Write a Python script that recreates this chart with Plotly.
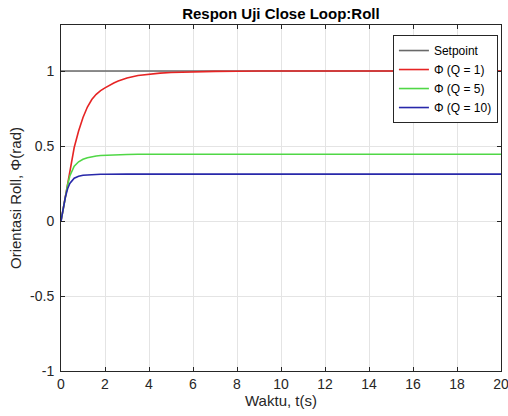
import plotly.graph_objects as go

t = [0, 0.1, 0.2, 0.3, 0.4, 0.6, 0.8, 1.0, 1.2, 1.4, 1.6, 1.8, 2.0, 2.2, 2.4, 2.6, 2.8, 3.0, 3.5, 4.0, 4.5, 5.0, 6.0, 7.0, 8.0, 9.0, 20]
setpoint = [1.0] * len(t)
phi_q1 = [0, 0.085, 0.17, 0.26, 0.34, 0.49, 0.60, 0.69, 0.76, 0.81, 0.845, 0.87, 0.888, 0.905, 0.92, 0.933, 0.944, 0.953, 0.97, 0.98, 0.986, 0.99, 0.995, 0.998, 0.999, 1.0, 1.0]
phi_q5 = [0, 0.088, 0.17, 0.24, 0.30, 0.365, 0.395, 0.412, 0.422, 0.429, 0.434, 0.437, 0.439, 0.441, 0.442, 0.443, 0.444, 0.444, 0.445, 0.445, 0.445, 0.445, 0.445, 0.445, 0.445, 0.445, 0.445]
phi_q10 = [0, 0.09, 0.16, 0.215, 0.25, 0.285, 0.298, 0.305, 0.308, 0.310, 0.311, 0.312, 0.312, 0.313, 0.313, 0.313, 0.313, 0.313, 0.313, 0.313, 0.313, 0.313, 0.313, 0.313, 0.313, 0.313, 0.313]

x_ticks = [0, 2, 4, 6, 8, 10, 12, 14, 16, 18, 20]
y_ticks = [-1, -0.5, 0, 0.5, 1]
y_labels = ["-1", "-0.5", "0", "0.5", "1"]

series = [
    ("Setpoint", setpoint, "rgb(105,105,105)"),
    ("\u03a6 (Q = 1)", phi_q1, "rgb(230,36,36)"),
    ("\u03a6 (Q = 5)", phi_q5, "rgb(80,215,70)"),
    ("\u03a6 (Q = 10)", phi_q10, "rgb(40,40,170)"),
]

fig = go.Figure()
for name, vals, col in series:
    fig.add_trace(go.Scatter(x=t, y=vals, mode="lines", name=name,
                             line=dict(color=col, width=1.6)))

font = "Liberation Sans, Arial, sans-serif"
txt = "rgb(38,38,38)"
axis_common = dict(showline=True, linecolor=txt, linewidth=1, mirror="ticks",
                   ticks="inside", ticklen=4, tickcolor=txt,
                   showgrid=True, gridcolor="rgb(228,228,228)", gridwidth=1, zeroline=False,
                   automargin=False, ticklabeloverflow="allow",
                   tickfont=dict(family=font, size=14, color=txt))

fig.update_layout(
    width=508, height=416,
    margin=dict(l=61, r=7, t=25, b=45),
    paper_bgcolor="white", plot_bgcolor="white",
    title=dict(text="<b>Respon Uji Close Loop:Roll</b>", x=0.553, xanchor="center", y=0.968, yanchor="middle",
               font=dict(family=font, size=15, color="black")),
    xaxis=dict(range=[0, 20], tickvals=x_ticks,
               title=dict(text="Waktu, t(s)", font=dict(family=font, size=15, color=txt), standoff=2),
               **axis_common),
    yaxis=dict(range=[-1, 1.307], tickvals=y_ticks, ticktext=y_labels, ticklabelstandoff=3,
               title=dict(text="Orientasi Roll, \u03a6(rad)", font=dict(family=font, size=15, color=txt), standoff=4),
               **axis_common),
    legend=dict(x=0.993, xanchor="right", y=0.971, yanchor="top", bgcolor="white",
                bordercolor=txt, borderwidth=1,
                font=dict(family=font, size=12, color="black"), tracegroupgap=0),
    showlegend=True,
)

fig.write_html("out.html")
